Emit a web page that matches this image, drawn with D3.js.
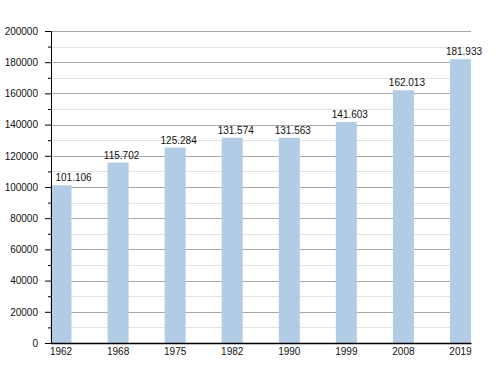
<!DOCTYPE html>
<html>
<head>
<meta charset="utf-8">
<script src="https://cdn.jsdelivr.net/npm/d3@7"></script>
<style>
	body { margin: 0; background: #fff; }
	text { font-family: "Liberation Sans", Arial, sans-serif; font-size: 10px; fill: #111; }
</style>
</head>
<body>
<div class="container"></div>
<script>
// census years and population
const years = ['1962', '1968', '1975', '1982', '1990', '1999', '2008', '2019']
const population = [101106, 115702, 125284, 131574, 131563, 141603, 162013, 181933]
const valueLabels = ['101.106', '115.702', '125.284', '131.574', '131.563', '141.603', '162.013', '181.933']
const majorTicks = [0, 20000, 40000, 60000, 80000, 100000, 120000, 140000, 160000, 180000, 200000]
const minorTicks = [10000, 30000, 50000, 70000, 90000, 110000, 130000, 150000, 170000, 190000]

const width = 500, height = 373
const plotLeft = 50.5, plotRight = 471, plotTop = 31, plotBottom = 343

let svg = d3.select('.container')
	.append('svg')
	.attr('width', width)
	.attr('height', height)

let x = d3.scaleBand()
	.domain(years)
	.range([plotLeft, plotRight])
	.paddingInner(0.632)
	.paddingOuter(0)

let y = d3.scaleLinear()
	.domain([0, 200000])
	.range([plotBottom, plotTop])

// grid lines
svg.selectAll('.minor')
	.data(minorTicks)
	.enter().append('line')
	.attr('x1', plotLeft).attr('x2', plotRight)
	.attr('y1', d => Math.round(y(d)) + 0.5).attr('y2', d => Math.round(y(d)) + 0.5)
	.attr('stroke', '#e3e3e3')

svg.selectAll('.major')
	.data(majorTicks.slice(1))
	.enter().append('line')
	.attr('x1', plotLeft).attr('x2', plotRight)
	.attr('y1', d => Math.round(y(d)) + 0.5).attr('y2', d => Math.round(y(d)) + 0.5)
	.attr('stroke', '#a8a8a8')

// bars
svg.selectAll('.bar')
	.data(population)
	.enter().append('rect')
	.attr('x', (d, i) => x(years[i]))
	.attr('y', d => y(d))
	.attr('width', x.bandwidth())
	.attr('height', d => plotBottom - y(d))
	.attr('fill', '#b2cce6')

// value labels, a little right of the bar centre, kept clear of the axis
svg.selectAll('.val')
	.data(population)
	.enter().append('text')
	.attr('x', (d, i) => x(years[i]) + x.bandwidth() / 2 + 3.5)
	.attr('y', d => y(d) - 4)
	.attr('text-anchor', 'middle')
	.text((d, i) => valueLabels[i])
	.each(function() {
		let b = this.getBBox()
		if (b.x < plotLeft + 5) {
			d3.select(this).attr('x', +d3.select(this).attr('x') + (plotLeft + 5 - b.x))
		}
	})

// y axis
let yAxis = d3.axisLeft(y)
	.tickValues(majorTicks)
	.tickSize(6)
	.tickPadding(7)
	.tickFormat(d => String(d))

let ya = svg.append('g')
	.attr('transform', 'translate(' + Math.round(plotLeft) + ',0)')
	.call(yAxis)
ya.select('.domain').attr('stroke', '#000')
ya.selectAll('.tick line').attr('stroke', '#000')
ya.selectAll('text').style('font-size', '10px').attr('fill', '#111')

svg.append('g')
	.attr('transform', 'translate(' + Math.round(plotLeft) + ',0)')
	.call(d3.axisLeft(y).tickValues(minorTicks).tickSize(3).tickFormat(''))
	.call(g => g.select('.domain').remove())
	.selectAll('line').attr('stroke', '#000')

// x axis
let xa = svg.append('g')
	.attr('transform', 'translate(0,' + plotBottom + ')')
	.call(d3.axisBottom(x).tickSize(0).tickPadding(5))
xa.select('.domain').attr('stroke', '#000').attr('stroke-width', 1.5)
xa.selectAll('text').style('font-size', '10px').attr('fill', '#111')
</script>
</body>
</html>
